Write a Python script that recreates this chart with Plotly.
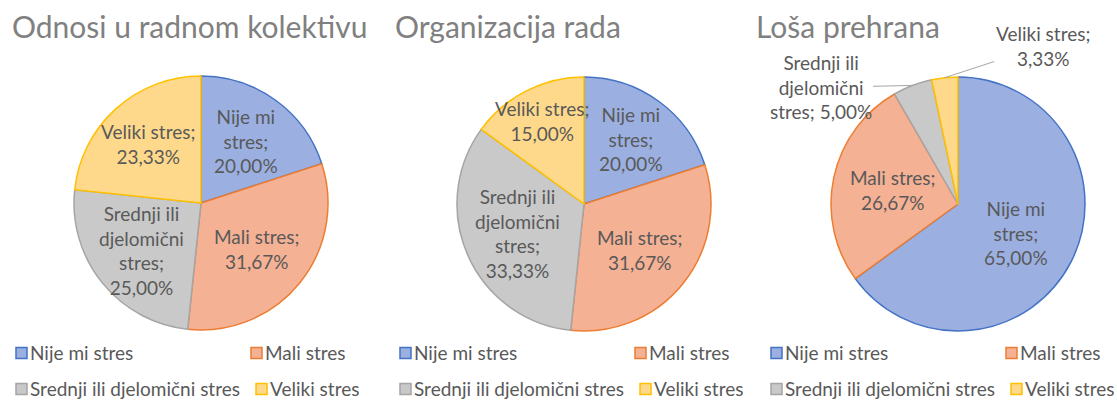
import math
import plotly.graph_objects as go

# ---------------- data ----------------
categories = ["Nije mi stres", "Mali stres", "Srednji ili djelomični stres", "Veliki stres"]
titles = ["Odnosi u radnom kolektivu", "Organizacija rada", "Loša prehrana"]
values_odnosi = [20.00, 31.67, 25.00, 23.33]
values_organizacija = [20.00, 31.67, 33.33, 15.00]
values_prehrana = [65.00, 26.67, 5.00, 3.33]
# label wording (line-broken as in the source chart)
label_heads = ["Nije mi<br>stres;", "Mali stres;", "Srednji ili<br>djelomični<br>stres;", "Veliki stres;"]

# ---------------- style ----------------
W, H = 1117, 401
FILL = ["#9BB0E1", "#F5B194", "#C9C9C9", "#FFD98B"]
EDGE = ["#4472C4", "#ED7D31", "#A5A5A5", "#FFC000"]
FONT = "Lato"
TXT = "#595959"
TITLE_C = "#808080"
LBL_SIZE = 19
LEG_SIZE = 19
R = 127
centers = [(201, 203), (584, 204), (958, 204)]
title_x = [10, 393, 754]
# radial position of inside labels (fraction of radius); None = outside with leader line
label_r = [
    [0.60, 0.57, 0.60, 0.62],
    [0.63, 0.57, 0.57, 0.73],
    [0.51, 0.52, None, None],
]
# pixel offset of outside labels (text centre relative to slice edge point)
outside_off = {(2, 2): (-92, 2), (2, 3): (98, -32)}
legend_x0 = [16, 400, 771]
legend_rows = [352, 388]
legend_col2 = [235, 240]

series = [values_odnosi, values_organizacija, values_prehrana]


def fmt(v):
    return f"{v:.2f}".replace(".", ",") + "%"


def px(x):
    return x / W


def py(y):
    return 1 - y / H


fig = go.Figure()
annotations = []
shapes = []

for k, vals in enumerate(series):
    cx, cy = centers[k]
    fig.add_trace(go.Pie(
        labels=categories, values=vals, sort=False, direction="clockwise", rotation=0,
        textinfo="none", hoverinfo="label+percent", showlegend=False,
        marker=dict(colors=FILL, line=dict(color=EDGE, width=1.5)),
        domain=dict(x=[px(cx - R), px(cx + R)], y=[py(cy + R), py(cy - R)]),
    ))
    total = sum(vals)
    cum = 0.0
    for i, v in enumerate(vals):
        mid = (cum + v / 2) / total * 2 * math.pi
        cum += v
        fr = label_r[k][i]
        if fr is not None:
            lx = cx + fr * R * math.sin(mid)
            ly = cy - fr * R * math.cos(mid)
            annotations.append(dict(
                x=px(lx), y=py(ly), xref="paper", yref="paper",
                text=label_heads[i] + "<br>" + fmt(v), showarrow=False,
                font=dict(family=FONT, size=LBL_SIZE, color=TXT), align="center",
                xanchor="center", yanchor="middle",
            ))
        else:
            ex = cx + R * math.sin(mid)
            ey = cy - R * math.cos(mid)
            ox, oy = outside_off[(k, i)]
            txt = label_heads[i] + (" " if i == 2 else "<br>") + fmt(v)
            annotations.append(dict(
                x=px(ex), y=py(ey), xref="paper", yref="paper",
                ax=ox, ay=oy, axref="pixel", ayref="pixel",
                text=txt, showarrow=True, arrowhead=0, arrowwidth=1,
                arrowcolor="#A6A6A6", standoff=0,
                font=dict(family=FONT, size=LBL_SIZE, color=TXT), align="center",
            ))
    # title
    annotations.append(dict(
        x=px(title_x[k]), y=py(26), xref="paper", yref="paper",
        text=titles[k], showarrow=False, xanchor="left", yanchor="middle",
        font=dict(family=FONT, size=30, color=TITLE_C),
    ))
    # legend (2 x 2)
    for i, cat in enumerate(categories):
        row = i // 2
        col = i % 2
        sx = legend_x0[k] + (legend_col2[row] if col else 0)
        sy = legend_rows[row]
        shapes.append(dict(
            type="rect", xref="paper", yref="paper",
            x0=px(sx), x1=px(sx + 11), y0=py(sy + 6.5), y1=py(sy - 4.5),
            fillcolor=FILL[i], line=dict(color=EDGE[i], width=1.5),
        ))
        annotations.append(dict(
            x=px(sx + 12), y=py(sy), xref="paper", yref="paper",
            text=cat, showarrow=False, xanchor="left", yanchor="middle",
            font=dict(family=FONT, size=LEG_SIZE, color=TXT),
        ))

fig.update_layout(
    width=W, height=H, margin=dict(l=0, r=0, t=0, b=0),
    paper_bgcolor="white", plot_bgcolor="white",
    annotations=annotations, shapes=shapes,
)
fig.write_html("out.html", config={"displayModeBar": False},
               post_script="document.body.style.margin='0px';")
